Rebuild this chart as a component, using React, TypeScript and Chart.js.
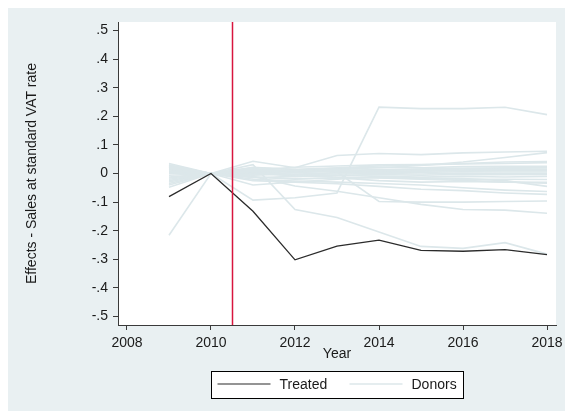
import { useEffect, useRef } from "react";
import { Chart, registerables } from "chart.js";

Chart.register(...registerables);

// Years observed
const years = [2009, 2010, 2011, 2012, 2013, 2014, 2015, 2016, 2017, 2018];

// Estimated effect for the treated unit
const treated = [-0.081, 0, -0.132, -0.302, -0.254, -0.233, -0.269, -0.272, -0.266, -0.284];

// Placebo effects for the donor pool
const donor01 = [-0.216, 0, -0.012, -0.02, -0.015, -0.025, -0.03, -0.028, -0.03, -0.031];
const donor02 = [0.022, 0, -0.093, -0.085, -0.068, 0.232, 0.227, 0.227, 0.232, 0.206];
const donor03 = [0.008, 0, 0.031, -0.126, -0.154, -0.205, -0.255, -0.262, -0.242, -0.282];
const donor04 = [-0.03, 0, 0.043, 0.02, 0.063, 0.07, 0.066, 0.072, 0.075, 0.078];
const donor05 = [0.03, 0, 0.012, 0.01, 0.005, -0.098, -0.1, -0.1, -0.098, -0.096];
const donor06 = [-0.048, 0, -0.01, -0.044, -0.062, -0.085, -0.108, -0.126, -0.128, -0.139];
const donor07 = [0.004, 0, 0.008, 0.01, 0.014, 0.02, 0.028, 0.04, 0.056, 0.073];
const donor08 = [0.018, 0, 0.02, 0.015, 0.02, 0.026, 0.03, 0.035, 0.04, 0.042];
const donor09 = [-0.012, 0, 0.012, 0.022, 0.026, 0.03, 0.031, 0.033, 0.035, 0.038];
const donor10 = [0.035, 0, 0.005, 0.012, 0.018, 0.022, 0.02, 0.024, 0.025, 0.025];
const donor11 = [0.026, 0, -0.004, 0.003, 0.01, 0.014, 0.016, 0.018, 0.02, 0.02];
const donor12 = [-0.02, 0, 0.015, 0.01, 0.012, 0.01, 0.014, 0.012, 0.015, 0.015];
const donor13 = [0.012, 0, 0.002, 0.006, 0.008, 0.004, 0.008, 0.01, 0.01, 0.01];
const donor14 = [-0.006, 0, -0.006, -0.002, 0.002, 0.005, 0.004, 0.006, 0.005, 0.005];
const donor15 = [0.03, 0, 0.004, -0.004, -0.002, 0, -0.002, 0.002, 0, 0];
const donor16 = [-0.035, 0, -0.015, -0.01, -0.006, -0.004, -0.006, -0.003, -0.004, -0.003];
const donor17 = [0.008, 0, 0.022, 0.014, 0.004, 0.006, 0.01, 0.012, 0.014, 0.012];
const donor18 = [-0.025, 0, -0.012, -0.018, -0.016, -0.014, -0.018, -0.02, -0.02, -0.021];
const donor19 = [0.015, 0, -0.02, -0.026, -0.03, -0.035, -0.04, -0.05, -0.058, -0.063];
const donor20 = [-0.04, 0, -0.025, -0.03, -0.036, -0.045, -0.055, -0.06, -0.068, -0.073];
const donor21 = [0.02, 0, 0, -0.008, -0.012, -0.016, -0.02, -0.024, -0.03, -0.034];
const donor22 = [-0.016, 0, 0.006, -0.01, -0.006, -0.01, -0.012, -0.01, -0.012, -0.01];
const donor23 = [0, 0, -0.04, -0.03, -0.02, -0.012, -0.015, -0.018, -0.025, -0.045];
const donor24 = [0.024, 0, 0.016, 0.004, 0.008, 0.012, 0.015, 0.017, 0.018, 0.02];

const donors = [
  donor01, donor02, donor03, donor04, donor05, donor06, donor07, donor08,
  donor09, donor10, donor11, donor12, donor13, donor14, donor15, donor16,
  donor17, donor18, donor19, donor20, donor21, donor22, donor23, donor24,
];

// Axis ticks and the treatment date
const yTicks = [0.5, 0.4, 0.3, 0.2, 0.1, 0, -0.1, -0.2, -0.3, -0.4, -0.5];
const xTicks = [2008, 2010, 2012, 2014, 2016, 2018];
const treatmentYear = 2010.5;

const FONT = "'Liberation Sans', Arial, Helvetica, sans-serif";
const TEXT = "#1a1a1a";
const AXIS = "#3a3a3a";
const REGION_BG = "#e9f0f2";
const DONOR_COLOR = "#dce7ea";
const TREATED_COLOR = "#2b2b2b";
const TREAT_LINE = "#d8153e";

const fmtY = (v: number) => {
  if (Math.abs(v) < 1e-9) return "0";
  return v.toFixed(1).replace("0.", ".");
};

const plotBackground = {
  id: "plotBackground",
  beforeDraw(chart: any) {
    const { ctx, chartArea } = chart;
    ctx.save();
    ctx.fillStyle = "#ffffff";
    ctx.fillRect(chartArea.left, chartArea.top, chartArea.right - chartArea.left, chartArea.bottom - chartArea.top);
    ctx.restore();
  },
};

const treatmentLine = {
  id: "treatmentLine",
  afterDatasetsDraw(chart: any) {
    const { ctx, chartArea, scales } = chart;
    const x = Math.round(scales.x.getPixelForValue(treatmentYear)) + 0.5;
    ctx.save();
    ctx.strokeStyle = TREAT_LINE;
    ctx.lineWidth = 1.5;
    ctx.beginPath();
    ctx.moveTo(x, chartArea.top);
    ctx.lineTo(x, chartArea.bottom);
    ctx.stroke();
    ctx.restore();
  },
};

const boxedLegend = {
  id: "boxedLegend",
  afterDraw(chart: any) {
    const { ctx, chartArea } = chart;
    const w = 252;
    const h = 27;
    const left = Math.round((chartArea.left + chartArea.right) / 2 - w / 2) + 0.5;
    const top = Math.round(chartArea.bottom + 46) + 0.5;
    const midY = top + h / 2 - 1;
    ctx.save();
    ctx.fillStyle = "#ffffff";
    ctx.fillRect(left, top, w, h);
    ctx.strokeStyle = "#000000";
    ctx.lineWidth = 1;
    ctx.strokeRect(left, top, w, h);
    const items = [
      { label: "Treated", color: TREATED_COLOR, width: 1.2, x0: 6 },
      { label: "Donors", color: DONOR_COLOR, width: 1.6, x0: 138 },
    ];
    ctx.font = `14px ${FONT}`;
    ctx.textBaseline = "middle";
    ctx.textAlign = "left";
    for (const it of items) {
      ctx.strokeStyle = it.color;
      ctx.lineWidth = it.width;
      ctx.beginPath();
      ctx.moveTo(left + it.x0, midY);
      ctx.lineTo(left + it.x0 + 53, midY);
      ctx.stroke();
      ctx.fillStyle = TEXT;
      ctx.fillText(it.label, left + it.x0 + 62, midY + 1);
    }
    ctx.restore();
  },
};

export default function App() {
  const canvasRef = useRef<HTMLCanvasElement | null>(null);

  useEffect(() => {
    if (!canvasRef.current) return;
    document.documentElement.style.overflow = "hidden";
    document.body.style.overflow = "hidden";

    const donorSets = donors.map((d, i) => ({
      label: i === 0 ? "Donors" : `Donor ${i + 1}`,
      data: years.map((yr, k) => ({ x: yr, y: d[k] })),
      borderColor: DONOR_COLOR,
      borderWidth: 1.6,
      pointRadius: 0,
      tension: 0,
      order: 2,
    }));

    const chart = new Chart(canvasRef.current, {
      type: "line",
      data: {
        datasets: [
          {
            label: "Treated",
            data: years.map((yr, k) => ({ x: yr, y: treated[k] })),
            borderColor: TREATED_COLOR,
            borderWidth: 1.3,
            pointRadius: 0,
            tension: 0,
            order: 1,
          },
          ...donorSets,
        ],
      },
      options: {
        animation: false,
        responsive: false,
        events: [],
        layout: { padding: { top: 14, right: 9, bottom: 41, left: 0 } },
        plugins: {
          legend: { display: false },
          tooltip: { enabled: false },
        },
        scales: {
          x: {
            type: "linear",
            min: 2007.786,
            max: 2018.214,
            afterBuildTicks: (s: any) => {
              s.ticks = xTicks.map((v) => ({ value: v }));
            },
            afterFit: (s: any) => {
              s.height = 45;
              s.paddingLeft = 0;
              s.paddingRight = 0;
            },
            grid: {
              display: true,
              drawOnChartArea: false,
              drawTicks: true,
              tickLength: 5,
              color: AXIS,
            },
            border: { display: true, color: AXIS, width: 1 },
            ticks: {
              autoSkip: false,
              maxRotation: 0,
              padding: 5,
              color: TEXT,
              font: { family: FONT, size: 14 },
              callback: (v: any) => String(v),
            },
            title: {
              display: true,
              text: "Year",
              color: TEXT,
              font: { family: FONT, size: 14 },
              padding: { top: 0, bottom: 7 },
            },
          },
          y: {
            type: "linear",
            min: -0.53,
            max: 0.53,
            afterBuildTicks: (s: any) => {
              s.ticks = yTicks.map((v) => ({ value: v }));
            },
            afterFit: (s: any) => {
              s.width = 110;
              s.paddingTop = 0;
              s.paddingBottom = 0;
            },
            grid: {
              display: true,
              drawOnChartArea: false,
              drawTicks: true,
              tickLength: 5,
              color: AXIS,
            },
            border: { display: true, color: AXIS, width: 1 },
            ticks: {
              autoSkip: false,
              padding: 5,
              color: TEXT,
              font: { family: FONT, size: 14 },
              callback: (v: any) => fmtY(Number(v)),
            },
            title: {
              display: true,
              text: "Effects - Sales at standard VAT rate",
              color: TEXT,
              font: { family: FONT, size: 14 },
              padding: { top: 16, bottom: 0 },
            },
          },
        },
      },
      plugins: [plotBackground, treatmentLine, boxedLegend],
    });

    return () => chart.destroy();
  }, []);

  return (
    <div
      style={{
        position: "fixed",
        left: 8,
        top: 8,
        width: 557,
        height: 403,
        background: REGION_BG,
      }}
    >
      <canvas ref={canvasRef} width={557} height={403} style={{ display: "block", width: 557, height: 403 }} />
    </div>
  );
}
